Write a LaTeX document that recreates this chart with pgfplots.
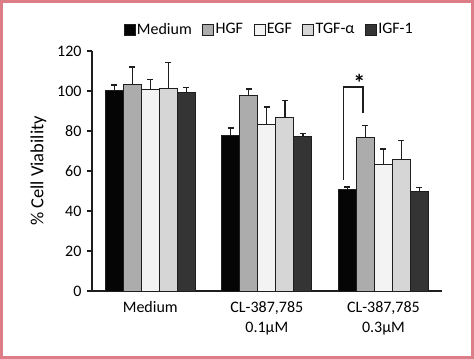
\documentclass[border=0pt]{standalone}
\usepackage{pgfplots}
\pgfplotsset{compat=1.18}
\usepackage{fontspec}
\setmainfont{Carlito}
\definecolor{framecol}{RGB}{221,125,135}
\definecolor{cMed}{RGB}{5,5,5}
\definecolor{cHGF}{RGB}{172,172,172}
\definecolor{cEGF}{RGB}{243,243,243}
\definecolor{cTGF}{RGB}{214,214,214}
\definecolor{cIGF}{RGB}{52,52,52}
\definecolor{edge}{RGB}{30,30,30}

\pgfplotstableread{
x y e
0 100.0 3.0
1 77.5 4.0
2 50.8 1.2
}\tMed
\pgfplotstableread{
x y e
0 103.0 9.0
1 97.5 3.5
2 76.7 6.0
}\tHGF
\pgfplotstableread{
x y e
0 100.7 5.0
1 83.0 9.0
2 63.4 7.6
}\tEGF
\pgfplotstableread{
x y e
0 101.2 13.0
1 86.6 8.6
2 65.5 9.8
}\tTGF
\pgfplotstableread{
x y e
0 99.0 2.7
1 77.4 1.3
2 49.7 2.2
}\tIGF

\begin{document}
\fontsize{16bp}{20bp}\selectfont
\begin{tikzpicture}
\begin{axis}[
  name=ax,
  scale only axis, width=349.7bp, height=240bp,
  xmin=-0.5, xmax=2.5, ymin=0, ymax=120,
  axis lines*=left,
  axis line style={line width=1.3bp, edge},
  ytick={0,20,...,120},
  tick align=outside, major tick length=5bp,
  y tick style={line width=1.3bp, edge},
  xtick={0,1,2},
  x tick style={draw=none},
  xticklabels={Medium,{CL-387,785\\0.1µM},{CL-387,785\\0.3µM}},
  xticklabel style={align=center},
  /pgf/number format/assume math mode=true,
  ylabel={\% Cell Viability},
  ylabel style={font=\fontsize{18.5bp}{20bp}\selectfont},
  ybar=0pt, bar width=18bp,
  every axis plot/.append style={draw=edge, line width=1bp,
     error bars/y dir=plus, error bars/y explicit,
     error bars/error bar style={line width=1.3bp, edge},
     error bars/error mark options={rotate=90, mark size=3bp, line width=1.3bp, edge}},
  legend columns=-1,
  legend style={at={(0.506,1.0875)}, anchor=center, draw=none, fill=none,
     /tikz/every even column/.append style={column sep=9bp},
     nodes={inner sep=1.5bp}},
  legend image code/.code={\draw[#1, line width=0.8bp] (0bp,-5.5bp) rectangle (11bp,5.5bp);},
]
\addplot[fill=cMed] table[x=x,y=y,y error=e] {\tMed};
\addplot[fill=cHGF] table[x=x,y=y,y error=e] {\tHGF};
\addplot[fill=cEGF] table[x=x,y=y,y error=e] {\tEGF};
\addplot[fill=cTGF] table[x=x,y=y,y error=e] {\tTGF};
\addplot[fill=cIGF] table[x=x,y=y,y error=e] {\tIGF};
\legend{Medium,HGF,EGF,TGF-α,IGF-1}
\draw[line width=1.3bp, edge] (axis cs:1.66,55.5) |- (axis cs:1.824,102) -- (axis cs:1.824,89);
\node[font=\bfseries\fontsize{24bp}{24bp}\selectfont, inner sep=0pt] at (axis cs:1.794,104) {*};
\end{axis}
\pgfresetboundingbox
\path[use as bounding box] ([shift={(-92bp,-68bp)}]ax.south west) rectangle ([shift={(382bp,291bp)}]ax.south west);
\draw[framecol, line width=2.6bp] ([shift={(-90.7bp,-66.7bp)}]ax.south west) rectangle ([shift={(380.7bp,289.7bp)}]ax.south west);
\end{tikzpicture}
\end{document}
